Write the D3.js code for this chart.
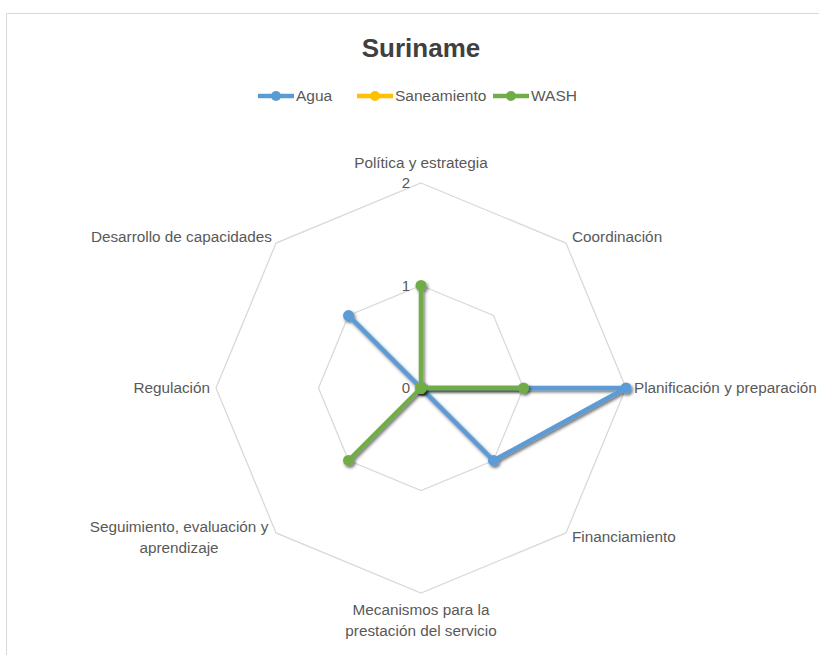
<!DOCTYPE html>
<html>
<head>
<meta charset="utf-8">
<script src="https://cdn.jsdelivr.net/npm/d3@7"></script>
<style>
  body { margin: 0; background: #fff; }
  text { font-family: "Liberation Sans", Arial, sans-serif; fill: #595959; }
</style>
</head>
<body>
<div id="chart"></div>
<script>
// axes of the radar, clockwise from the top
const categories = [
  "Política y estrategia",
  "Coordinación",
  "Planificación y preparación",
  "Financiamiento",
  "Mecanismos para la\nprestación del servicio",
  "Seguimiento, evaluación y\naprendizaje",
  "Regulación",
  "Desarrollo de capacidades"
];
const seriesNames = ["Agua", "Saneamiento", "WASH"];
const seriesColors = ["#5b9bd5", "#ffc000", "#70ad47"];
const agua        = [0, 0, 2, 1, 0, 0, 0, 1];
const saneamiento = [0, 0, 0, 0, 0, 0, 0, 0];
const wash        = [1, 0, 1, 0, 0, 1, 0, 0];
const ticks = [0, 1, 2];

const W = 819, H = 655;
const cx = 421, cy = 388, R = 205;

const svg = d3.select("#chart").append("svg")
  .attr("width", W).attr("height", H);

const defs = svg.append("defs");
const f = defs.append("filter").attr("id", "shadow")
  .attr("x", "-20%").attr("y", "-20%").attr("width", "140%").attr("height", "140%");
f.append("feDropShadow").attr("dx", 1.5).attr("dy", 2).attr("stdDeviation", 1.8)
  .attr("flood-color", "#000").attr("flood-opacity", 0.55);

// chart area border (cropped)
svg.append("path")
  .attr("d", "M6.5," + H + " V13.5 H" + W)
  .attr("fill", "none").attr("stroke", "#d9d9d9").attr("stroke-width", 1);

const r = d3.scaleLinear().domain([0, 2]).range([0, R]);
const angle = d3.scaleLinear().domain([0, categories.length]).range([0, 2 * Math.PI]);

function pt(i, v) {
  const a = angle(i);
  return [cx + r(v) * Math.sin(a), cy - r(v) * Math.cos(a)];
}

// grid octagons
const grid = svg.append("g");
ticks.filter(t => t > 0).forEach(t => {
  grid.append("path")
    .attr("d", d3.line()(categories.map((c, i) => pt(i, t))) + "Z")
    .attr("fill", "none").attr("stroke", "#d9d9d9").attr("stroke-width", 1.3);
});

// tick labels
svg.append("g").selectAll("text").data(ticks).join("text")
  .attr("x", cx - 11).attr("y", d => cy - r(d) + 5)
  .attr("text-anchor", "end").attr("font-size", 15)
  .text(d => d);

// category labels
const labelPos = [
  { x: cx, y: 168, anchor: "middle" },
  { x: 572, y: 242, anchor: "start" },
  { x: 634, y: 393, anchor: "start" },
  { x: 572, y: 542, anchor: "start" },
  { x: cx, y: 615, anchor: "middle" },
  { x: 179, y: 532, anchor: "middle" },
  { x: 210, y: 393, anchor: "end" },
  { x: 272, y: 242, anchor: "end" }
];
const lab = svg.append("g").selectAll("text").data(categories).join("text")
  .attr("x", (d, i) => labelPos[i].x)
  .attr("y", (d, i) => labelPos[i].y)
  .attr("text-anchor", (d, i) => labelPos[i].anchor)
  .attr("font-size", 15.3);
lab.each(function (d, i) {
  d3.select(this).selectAll("tspan").data(d.split("\n")).join("tspan")
    .attr("x", labelPos[i].x).attr("dy", (s, j) => j ? 21 : 0).text(s => s);
});

// series
const allSeries = [agua, saneamiento, wash];
const plot = svg.append("g");
allSeries.forEach((vals, s) => {
  const g = plot.append("g").attr("filter", "url(#shadow)");
  g.append("path")
    .attr("d", d3.line()(vals.map((v, i) => pt(i, v))) + "Z")
    .attr("fill", "none").attr("stroke", seriesColors[s])
    .attr("stroke-width", 4.5).attr("stroke-linejoin", "round");
  g.selectAll("circle").data(vals).join("circle")
    .attr("cx", (v, i) => pt(i, v)[0]).attr("cy", (v, i) => pt(i, v)[1])
    .attr("r", 5.5).attr("fill", seriesColors[s]);
});

// title
svg.append("text").attr("x", cx).attr("y", 57)
  .attr("text-anchor", "middle").attr("font-size", 26).attr("font-weight", "bold")
  .style("fill", "#404040")
  .text("Suriname");

// legend
const legendX = [258, 357, 493];
const leg = svg.append("g").selectAll("g").data(seriesNames).join("g")
  .attr("transform", (d, i) => "translate(" + legendX[i] + ",96)");
leg.append("line").attr("x1", 0).attr("x2", 36)
  .attr("stroke", (d, i) => seriesColors[i]).attr("stroke-width", 4.5);
leg.append("circle").attr("cx", 18).attr("r", 5)
  .attr("fill", (d, i) => seriesColors[i]);
leg.append("text").attr("x", 38).attr("y", 5).attr("font-size", 15.5).text(d => d);
</script>
</body>
</html>
